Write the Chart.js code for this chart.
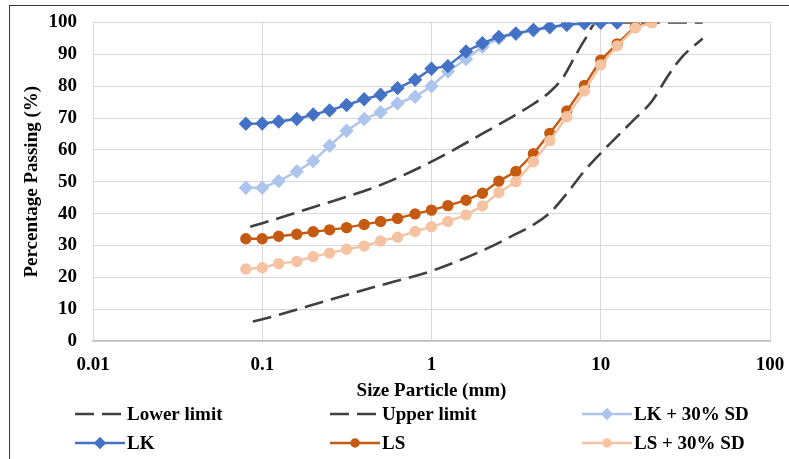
<!DOCTYPE html>
<html>
<head>
<meta charset="utf-8">
<script src="https://cdn.jsdelivr.net/npm/chart.js@4.4.1/dist/chart.umd.min.js"></script>
<style>
  html, body { margin: 0; padding: 0; background: #ffffff; }
  #wrap { position: relative; width: 789px; height: 459px; overflow: hidden; }
  #wrap canvas { position: absolute; left: 0; top: 0; }
  #frame {
    position: absolute; left: 9px; top: 5px; right: -10px; bottom: -10px;
    border-left: 1.5px solid #3a3a3a; border-top: 1.5px solid #3a3a3a;
    pointer-events: none;
  }
</style>
</head>
<body>
<div id="wrap">
  <canvas id="chart" width="789" height="459"></canvas>
  <div id="frame"></div>
</div>
<script>
// Sieve sizes (mm) for the measured gradations
const sieveSizes = [0.08, 0.1, 0.125, 0.16, 0.2, 0.25, 0.315, 0.4, 0.5, 0.63, 0.8, 1,
                    1.25, 1.6, 2, 2.5, 3.15, 4, 5, 6.3, 8, 10, 12.5, 16, 20];

// Percentage passing for each material
const lkPassing   = [68.2, 68.3, 68.9, 69.7, 71.1, 72.4, 74.1, 75.9, 77.3, 79.4, 82.0, 85.5,
                     86.3, 90.9, 93.5, 95.5, 96.6, 97.7, 98.6, 99.3, 99.8, 100, 100];
const lkSdPassing = [48.1, 48.1, 50.2, 53.2, 56.5, 61.3, 66.0, 69.7, 71.8, 74.6, 76.7, 80.0,
                     84.6, 88.5, 92.4, 95.0, 96.4, 97.5, 98.4, 99.2, 99.6, 99.9, 100];
const lsPassing   = [32.1, 32.1, 32.9, 33.5, 34.3, 34.9, 35.6, 36.6, 37.5, 38.5, 39.9, 41.1,
                     42.5, 44.2, 46.4, 50.2, 53.2, 58.8, 65.2, 72.2, 80.2, 88.2, 93.3, 98.7, 100];
const lsSdPassing = [22.6, 23.0, 24.3, 25.0, 26.5, 27.6, 28.8, 29.8, 31.4, 32.6, 34.4, 35.9,
                     37.5, 39.6, 42.4, 46.6, 50.0, 56.3, 62.9, 70.4, 78.5, 86.7, 92.6, 98.3, 100];

// Gradation envelope
const upperSizes   = [0.085, 0.1, 0.2, 0.5, 1, 2, 3, 4, 5, 6, 7, 8, 9.5, 40];
const upperPassing = [35.9, 37, 42, 49, 56.3, 65.1, 70.4, 74.4, 78.2, 82.8, 89.1, 94.4, 100, 100];
const lowerSizes   = [0.088, 0.1, 0.25, 0.5, 1, 2, 3, 4, 5, 6.3, 8, 10, 16, 20, 25, 30, 40];
const lowerPassing = [6.1, 6.8, 12.9, 17.5, 22, 28.4, 33, 36.5, 40.2, 46.3, 53.4, 59, 69.9, 75.2, 83.3, 89, 95];

// Axis ticks
const xTickValues = [0.01, 0.1, 1, 10, 100];
const xTickLabels = ['0.01', '0.1', '1', '10', '100'];
const yTickLabels = ['0', '10', '20', '30', '40', '50', '60', '70', '80', '90', '100'];

const toPoints = (xs, ys) => ys.map((y, i) => ({ x: xs[i], y }));

const FONT = 'Liberation Serif, "Times New Roman", serif';
const DASH = [19, 8];

const datasets = [
  { label: 'Lower limit', data: toPoints(lowerSizes, lowerPassing), borderColor: '#404040',
    borderWidth: 2.6, borderDash: DASH, pointRadius: 0, cubicInterpolationMode: 'monotone',
    legendCol: 0, legendRow: 0, order: 6 },
  { label: 'Upper limit', data: toPoints(upperSizes, upperPassing), borderColor: '#404040',
    borderWidth: 2.6, borderDash: DASH, pointRadius: 0, cubicInterpolationMode: 'monotone',
    legendCol: 1, legendRow: 0, order: 5 },
  { label: 'LK + 30% SD', data: toPoints(sieveSizes, lkSdPassing), borderColor: '#ADC5EC',
    backgroundColor: '#ADC5EC', borderWidth: 2.4, pointStyle: 'rectRot', pointRadius: 5.5,
    legendCol: 2, legendRow: 0, order: 4 },
  { label: 'LK', data: toPoints(sieveSizes, lkPassing), borderColor: '#4472C4',
    backgroundColor: '#4472C4', borderWidth: 2.4, pointStyle: 'rectRot', pointRadius: 5.5,
    legendCol: 0, legendRow: 1, order: 3 },
  { label: 'LS', data: toPoints(sieveSizes, lsPassing), borderColor: '#C55A11',
    backgroundColor: '#C55A11', borderWidth: 2.4, pointStyle: 'circle', pointRadius: 4.5,
    legendCol: 1, legendRow: 1, order: 2 },
  { label: 'LS + 30% SD', data: toPoints(sieveSizes, lsSdPassing), borderColor: '#F6C3A2',
    backgroundColor: '#F6C3A2', borderWidth: 2.4, pointStyle: 'circle', pointRadius: 4.5,
    legendCol: 2, legendRow: 1, order: 1 }
];

// Legend laid out as a 3 x 2 grid below the axis title
const gridLegend = {
  id: 'gridLegend',
  afterDraw(chart) {
    const ctx = chart.ctx;
    const colX = [75, 330, 582];
    const rowY = [414, 443];
    const sampleW = 50;
    ctx.save();
    ctx.font = 'bold 19px ' + FONT;
    ctx.textBaseline = 'middle';
    ctx.textAlign = 'left';
    chart.data.datasets.forEach(ds => {
      const x0 = colX[ds.legendCol];
      const y = rowY[ds.legendRow];
      ctx.strokeStyle = ds.borderColor;
      ctx.lineWidth = ds.borderWidth;
      ctx.setLineDash(ds.borderDash || []);
      ctx.beginPath();
      ctx.moveTo(x0, y);
      ctx.lineTo(x0 + (ds.borderDash ? 46 : sampleW), y);
      ctx.stroke();
      ctx.setLineDash([]);
      if (ds.pointRadius > 0) {
        Chart.helpers.drawPoint(ctx, {
          pointStyle: ds.pointStyle, radius: ds.pointRadius - 1, rotation: 0, borderWidth: 1
        }, x0 + sampleW / 2, y);
        ctx.fillStyle = ds.backgroundColor;
        ctx.fill();
      }
      ctx.fillStyle = '#000000';
      ctx.fillText(ds.label, x0 + sampleW + 2, y + 1);
    });
    ctx.restore();
  }
};

new Chart(document.getElementById('chart'), {
  type: 'line',
  data: { datasets },
  plugins: [gridLegend],
  options: {
    responsive: false,
    animation: false,
    layout: { padding: { left: 0, top: 22.5, right: 19, bottom: 56 } },
    plugins: { legend: { display: false }, tooltip: { enabled: false } },
    elements: { line: { tension: 0 }, point: { borderWidth: 1 } },
    scales: {
      x: {
        type: 'logarithmic', min: 0.01, max: 100,
        afterBuildTicks: s => { s.ticks = xTickValues.map(v => ({ value: v })); },
        afterFit: s => { s.height = 62; s.paddingLeft = 0; s.paddingRight = 0; },
        ticks: {
          autoSkip: false, maxRotation: 0, padding: 13, color: '#000000',
          font: { family: FONT, size: 19, weight: 'bold' },
          callback: (v, i) => xTickLabels[i]
        },
        grid: { color: '#D9D9D9', lineWidth: 1, drawTicks: false },
        border: { color: '#BFBFBF', width: 1.5 },
        title: {
          display: true, text: 'Size Particle (mm)', color: '#000000',
          font: { family: FONT, size: 19, weight: 'bold' }, padding: { top: 0, bottom: 1 }
        }
      },
      y: {
        type: 'linear', min: 0, max: 100,
        afterFit: s => { s.width = 93; s.paddingTop = 0; s.paddingBottom = 0; },
        ticks: {
          stepSize: 10, padding: 16, color: '#000000',
          font: { family: FONT, size: 19, weight: 'bold' },
          callback: (v, i) => yTickLabels[i]
        },
        grid: { color: '#D9D9D9', lineWidth: 1, drawTicks: false },
        border: { color: '#D9D9D9', width: 1 },
        title: {
          display: true, text: 'Percentage Passing (%)', color: '#000000',
          font: { family: FONT, size: 19, weight: 'bold' }, padding: { top: 21, bottom: 0 }
        }
      }
    }
  }
});
</script>
</body>
</html>
